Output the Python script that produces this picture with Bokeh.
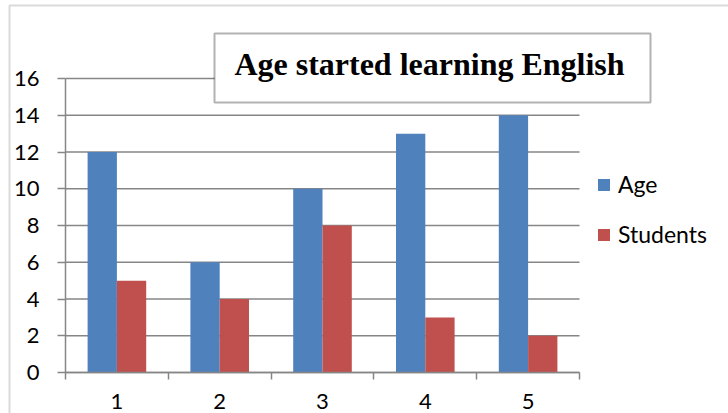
import numpy as np
from bokeh.plotting import figure
from bokeh.models import (Range1d, FixedTicker, Legend, LegendItem, BoxAnnotation, Label)
from bokeh.embed import file_html
from bokeh.resources import INLINE

categories = [1, 2, 3, 4, 5]
tick_labels = ["1", "2", "3", "4", "5"]
age = [12, 6, 10, 13, 14]
students = [5, 4, 8, 3, 2]
y_ticks = [0, 2, 4, 6, 8, 10, 12, 14, 16]
title_text = "Age started learning English"

BLUE = "#4F81BD"
RED = "#C0504D"
GRAY = "#868686"
FONT = "Lato"
FS = "22px"

# layout (canvas pixels)
W, H = 728, 413
FR_L, FR_T = 7, 3                  # frame covers nearly whole canvas
AX_L, AX_R = 65, 579               # plot area x extent
AX_T, AX_B = 78, 372               # plot area y extent (16 .. 0)
x0, x1 = 0.5, 5.5
y0, y1 = 0, 16
ppx = (AX_R - AX_L) / (x1 - x0)
ppy = (AX_B - AX_T) / (y1 - y0)
xr = Range1d(x0 - (AX_L - FR_L) / ppx, x1 + (W - AX_R) / ppx)
yr = Range1d(y0 - (H - AX_B) / ppy, y1 + (AX_T - FR_T) / ppy)

p = figure(width=W, height=H, output_backend="svg", toolbar_location=None,
           x_range=xr, y_range=yr,
           min_border_left=FR_L, min_border_right=0, min_border_top=FR_T, min_border_bottom=0,
           background_fill_color="white", border_fill_color="white")
p.outline_line_color = None
p.xgrid.visible = False
p.ygrid.visible = False

# horizontal gridlines limited to the plot area
p.segment(x0=[x0] * len(y_ticks), x1=[x1] * len(y_ticks), y0=y_ticks, y1=y_ticks,
          line_color=GRAY, line_width=1.5)

cx = np.array(categories, dtype=float)
bw = 0.285
r_age = p.vbar(x=cx - bw / 2, top=age, width=bw, fill_color=BLUE, line_color=None)
r_stu = p.vbar(x=cx + bw / 2, top=students, width=bw, fill_color=RED, line_color=None)

# y axis
ya = p.yaxis[0]
ya.fixed_location = x0
ya.bounds = (y0, y1)
ya.ticker = FixedTicker(ticks=y_ticks)
ya.axis_line_color = GRAY
ya.axis_line_width = 1.5
ya.major_tick_line_color = GRAY
ya.major_tick_line_width = 1.5
ya.major_tick_in = 0
ya.major_tick_out = 8
ya.minor_tick_line_color = None
ya.major_label_standoff = 18
ya.major_label_text_font = FONT
ya.major_label_text_font_size = FS
ya.major_label_text_color = "black"

# x axis
xa = p.xaxis[0]
xa.fixed_location = y0
xa.bounds = (x0, x1)
xa.ticker = FixedTicker(ticks=categories,
                        minor_ticks=[c - 0.5 for c in categories] + [categories[-1] + 0.5])
xa.major_label_overrides = {c: t for c, t in zip(categories, tick_labels)}
xa.axis_line_color = GRAY
xa.axis_line_width = 1.5
xa.major_tick_line_color = None
xa.major_tick_in = 0
xa.major_tick_out = 0
xa.minor_tick_line_color = GRAY
xa.minor_tick_line_width = 1.5
xa.minor_tick_in = 0
xa.minor_tick_out = 7
xa.major_label_standoff = 14
xa.major_label_text_font = FONT
xa.major_label_text_font_size = FS
xa.major_label_text_color = "black"

# outer chart-area border (left and top edges visible)
outer = BoxAnnotation(left=9, right=3000, top=5, bottom=3000,
                      left_units="canvas", right_units="canvas",
                      top_units="canvas", bottom_units="canvas",
                      fill_alpha=0, line_color=GRAY, line_width=2)
p.add_layout(outer)

# title box
tbox = BoxAnnotation(left=214, right=650, top=33, bottom=102,
                     left_units="canvas", right_units="canvas",
                     top_units="canvas", bottom_units="canvas",
                     fill_color="white", fill_alpha=1, line_color="black", line_width=2)
p.add_layout(tbox)
tlabel = Label(x=429, y=63, x_units="canvas", y_units="canvas", text=title_text,
               text_font="Liberation Serif", text_font_style="bold", text_font_size="32px",
               text_align="center", text_baseline="alphabetic", text_color="black")
p.add_layout(tlabel)

legend = Legend(items=[LegendItem(label="Age", renderers=[r_age]),
                       LegendItem(label="Students", renderers=[r_stu])],
                location=(596 - FR_L, H - 248), glyph_width=15, glyph_height=15,
                label_standoff=7, padding=0, margin=0, spacing=22, border_line_color=None,
                background_fill_alpha=0, label_text_font=FONT, label_text_font_size="23px",
                label_text_color="black")
p.add_layout(legend)

open("out.html", "w").write(file_html(p, INLINE))
